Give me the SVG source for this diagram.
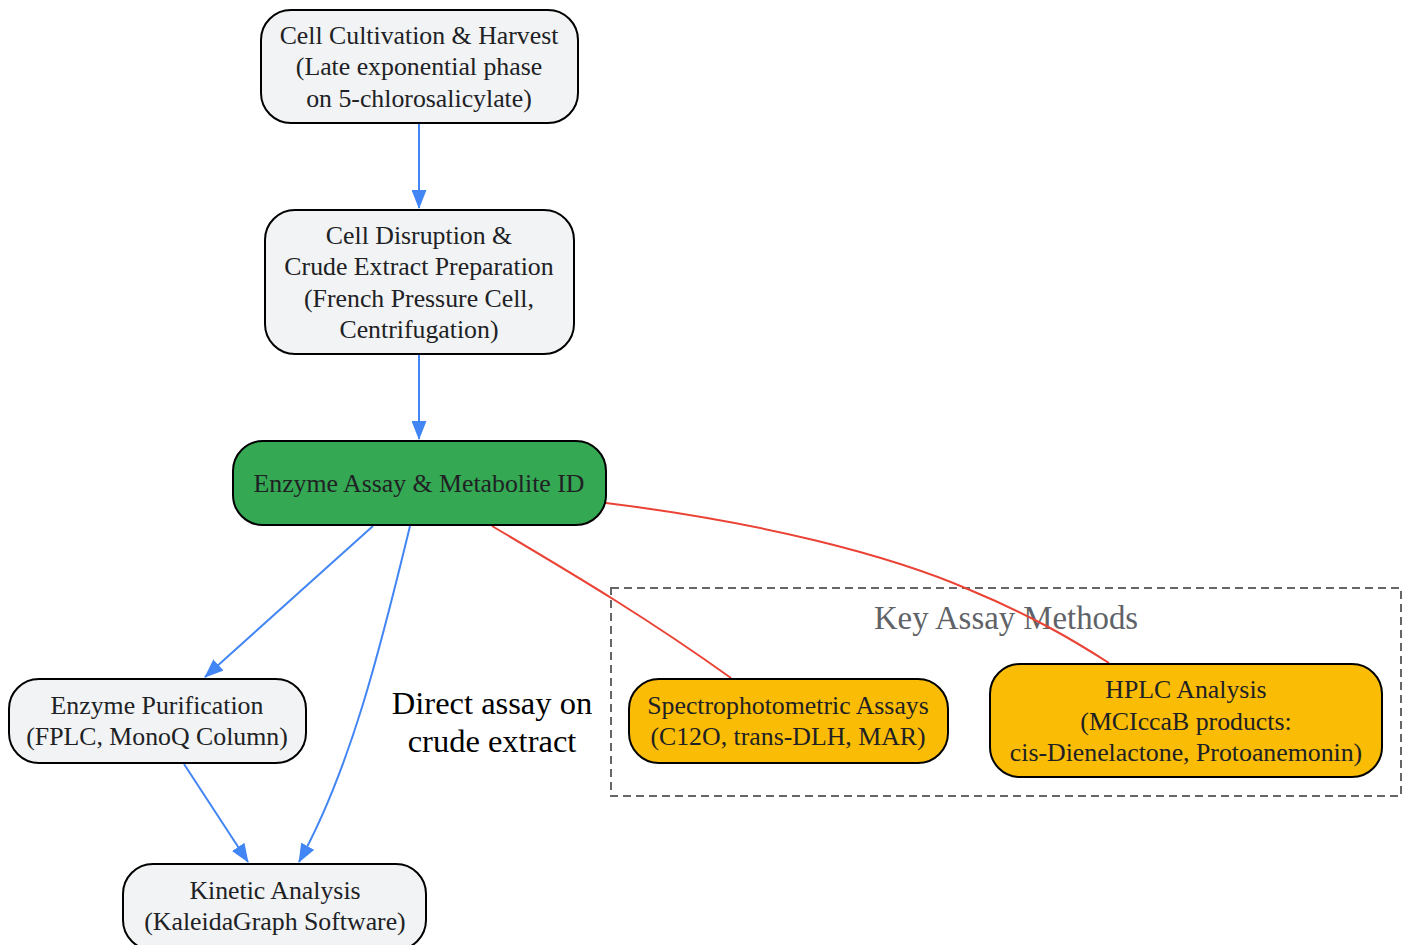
<svg xmlns="http://www.w3.org/2000/svg" width="1408" height="945" viewBox="0 0 1408 945">
<style>
.n{stroke:#000;stroke-width:2}
.g{fill:#F1F3F4}
.t{font-family:"Liberation Serif","Times New Roman",serif;font-size:25.8px;fill:#202124;text-anchor:middle}
.b{stroke:#4285F4;stroke-width:2;fill:none}
.r{stroke:#EA4335;stroke-width:2;fill:none}
</style>
<defs>
<marker id="ab" viewBox="0 0 10 10" refX="9.5" refY="5" markerWidth="19" markerHeight="15" markerUnits="userSpaceOnUse" orient="auto" preserveAspectRatio="none"><path d="M0,0 L10,5 L0,10 z" fill="#4285F4"/></marker>
</defs>
<g id="cluster">
<rect x="611" y="588" width="790" height="208" fill="none" stroke="#666" stroke-width="2" stroke-dasharray="8,5"/>
<text x="1006" y="629" style="font-family:'Liberation Serif',serif;font-size:32.8px;fill:#5F6368;text-anchor:middle">Key Assay Methods</text>
</g>
<g id="edges">
<path class="b" d="M419,124 L419,208" marker-end="url(#ab)"/>
<path class="b" d="M419,355 L419,439" marker-end="url(#ab)"/>
<path class="b" d="M373,526 L205,677" marker-end="url(#ab)"/>
<path class="b" d="M410,526 C380,650 350,770 299,862" marker-end="url(#ab)"/>
<path class="b" d="M184,764 L248,862" marker-end="url(#ab)"/>
<path class="r" d="M492,526 C580,578 650,620 731,678"/>
<path class="r" d="M606,503 C760,522 890,555 970,590 C1030,615 1070,638 1109,663"/>
<text x="492" y="714" style="font-family:'Liberation Serif',serif;font-size:32.5px;fill:#000;text-anchor:middle">Direct assay on</text>
<text x="492" y="752" style="font-family:'Liberation Serif',serif;font-size:32.5px;fill:#000;text-anchor:middle">crude extract</text>
</g>
<g id="n1"><rect class="n g" x="261" y="10" width="317" height="113" rx="30"/>
<text class="t" x="419" y="44">Cell Cultivation &amp; Harvest</text>
<text class="t" x="419" y="75">(Late exponential phase</text>
<text class="t" x="419" y="107">on 5-chlorosalicylate)</text></g>
<g id="n2"><rect class="n g" x="265" y="210" width="309" height="144" rx="30"/>
<text class="t" x="419" y="244">Cell Disruption &amp;</text>
<text class="t" x="419" y="275">Crude Extract Preparation</text>
<text class="t" x="419" y="307">(French Pressure Cell,</text>
<text class="t" x="419" y="338">Centrifugation)</text></g>
<g id="n3"><rect class="n" fill="#34A853" x="233" y="441" width="373" height="84" rx="30"/>
<text class="t" x="419" y="492">Enzyme Assay &amp; Metabolite ID</text></g>
<g id="n4"><rect class="n g" x="9" y="679" width="297" height="84" rx="30"/>
<text class="t" x="157" y="714">Enzyme Purification</text>
<text class="t" x="157" y="745">(FPLC, MonoQ Column)</text></g>
<g id="n5"><rect class="n g" x="123" y="864" width="303" height="86" rx="30"/>
<text class="t" x="275" y="899">Kinetic Analysis</text>
<text class="t" x="275" y="930">(KaleidaGraph Software)</text></g>
<g id="n6"><rect class="n" fill="#FBBC05" x="629" y="679" width="319" height="84" rx="30"/>
<text class="t" x="788" y="714">Spectrophotometric Assays</text>
<text class="t" x="788" y="745">(C12O, trans-DLH, MAR)</text></g>
<g id="n7"><rect class="n" fill="#FBBC05" x="990" y="664" width="392" height="113" rx="30"/>
<text class="t" x="1186" y="698">HPLC Analysis</text>
<text class="t" x="1186" y="730">(MCIccaB products:</text>
<text class="t" x="1186" y="761">cis-Dienelactone, Protoanemonin)</text></g>
</svg>
